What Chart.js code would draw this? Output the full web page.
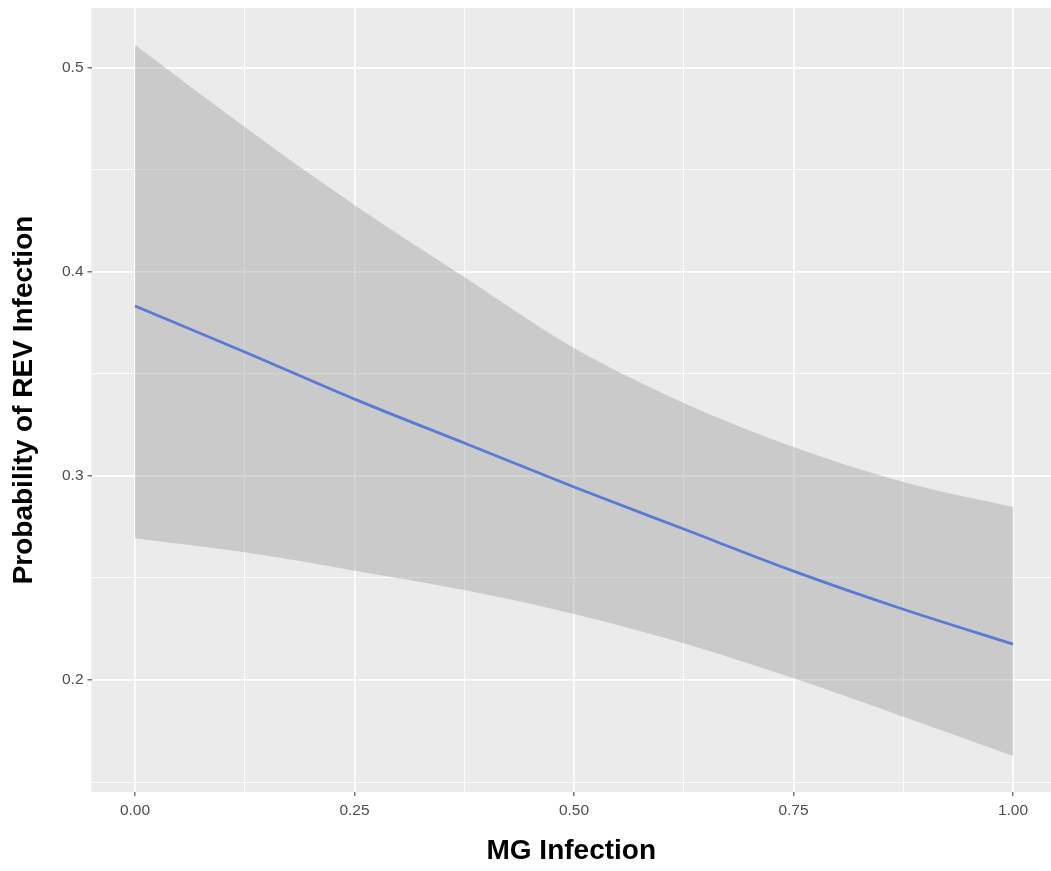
<!DOCTYPE html>
<html>
<head>
<meta charset="utf-8">
<script src="https://cdn.jsdelivr.net/npm/chart.js@4/dist/chart.umd.min.js"></script>
<style>
  body { margin: 0; background: #fff; }
  canvas { display: block; }
</style>
</head>
<body>
<canvas id="chart" width="1051" height="871"></canvas>
<script>
const mgInfection = [0, 0.125, 0.25, 0.375, 0.5, 0.625, 0.75, 0.875, 1];
const fitProb   = [0.3833, 0.3608, 0.3377, 0.3162, 0.2946, 0.2740, 0.2534, 0.2347, 0.2176];
const upperProb = [0.5113, 0.4711, 0.4328, 0.3975, 0.3627, 0.3358, 0.3142, 0.2971, 0.2848];
const lowerProb = [0.2695, 0.2626, 0.2536, 0.2441, 0.2324, 0.2180, 0.2008, 0.1820, 0.1627];

// grid positions: majors get labels, minors only a thin line
const xTickValues = [0, 0.125, 0.25, 0.375, 0.5, 0.625, 0.75, 0.875, 1];
const xTickLabels = ["0.00", "", "0.25", "", "0.50", "", "0.75", "", "1.00"];
const yTickValues = [0.15, 0.2, 0.25, 0.3, 0.35, 0.4, 0.45, 0.5];
const yTickLabels = ["", "0.2", "", "0.3", "", "0.4", "", "0.5"];

const toPoints = ys => mgInfection.map((x, i) => ({ x: x, y: ys[i] }));

const panelBg = {
  id: "panelBg",
  beforeDraw(chart) {
    const { ctx, chartArea: a } = chart;
    ctx.save();
    ctx.fillStyle = "#EBEBEB";
    ctx.fillRect(a.left, a.top, a.right - a.left, a.bottom - a.top);
    ctx.restore();
  }
};

const isMajor = (labels, ctx) => labels[ctx.index] !== "";
const noEdgePad = s => { s.paddingTop = 0; s.paddingBottom = 0; s.paddingLeft = 0; s.paddingRight = 0; };

new Chart(document.getElementById("chart"), {
  type: "line",
  data: {
    datasets: [
      { label: "lower", data: toPoints(lowerProb), borderWidth: 0, pointRadius: 0, fill: false,
        cubicInterpolationMode: "monotone" },
      { label: "upper", data: toPoints(upperProb), borderWidth: 0, pointRadius: 0, fill: "-1",
        backgroundColor: "rgba(153,153,153,0.4)", cubicInterpolationMode: "monotone" },
      { label: "fit", data: toPoints(fitProb), borderColor: "#3366FF", borderWidth: 2.8,
        pointRadius: 0, fill: false, cubicInterpolationMode: "monotone" }
    ]
  },
  options: {
    responsive: false,
    animation: false,
    layout: { padding: { top: 8, left: 0, right: 0, bottom: 0 } },
    plugins: { legend: { display: false }, tooltip: { enabled: false } },
    scales: {
      x: {
        type: "linear",
        min: -0.0495,
        max: 1.0433,
        afterBuildTicks: s => { s.ticks = xTickValues.map(v => ({ value: v })); },
        afterFit: s => { s.height = 79; noEdgePad(s); },
        border: { display: false },
        grid: {
          color: "#FFFFFF",
          lineWidth: c => isMajor(xTickLabels, c) ? 1.7 : 0.9,
          tickColor: c => isMajor(xTickLabels, c) ? "#333333" : "rgba(0,0,0,0)",
          tickLength: 4,
          tickWidth: 1
        },
        ticks: {
          autoSkip: false,
          maxRotation: 0,
          padding: 5,
          color: "#4D4D4D",
          font: { family: "'Liberation Sans', Arial, sans-serif", size: 15.5 },
          callback: (v, i) => xTickLabels[i]
        },
        title: {
          display: true,
          text: "MG Infection",
          color: "#000000",
          font: { family: "'Liberation Sans', Arial, sans-serif", size: 28, weight: "bold" },
          padding: { top: 0, bottom: 3 }
        }
      },
      y: {
        type: "linear",
        min: 0.1451,
        max: 0.5294,
        afterBuildTicks: s => { s.ticks = yTickValues.map(v => ({ value: v })); },
        afterFit: s => { s.width = 91.5; noEdgePad(s); },
        border: { display: false },
        grid: {
          color: "#FFFFFF",
          lineWidth: c => isMajor(yTickLabels, c) ? 1.7 : 0.9,
          tickColor: c => isMajor(yTickLabels, c) ? "#333333" : "rgba(0,0,0,0)",
          tickLength: 4,
          tickWidth: 1
        },
        ticks: {
          autoSkip: false,
          padding: 4,
          color: "#4D4D4D",
          font: { family: "'Liberation Sans', Arial, sans-serif", size: 15.5 },
          callback: (v, i) => yTickLabels[i]
        },
        title: {
          display: true,
          text: "Probability of REV Infection",
          color: "#000000",
          font: { family: "'Liberation Sans', Arial, sans-serif", size: 28, weight: "bold" },
          padding: { top: 7, bottom: 0 }
        }
      }
    }
  },
  plugins: [panelBg]
});
</script>
</body>
</html>
